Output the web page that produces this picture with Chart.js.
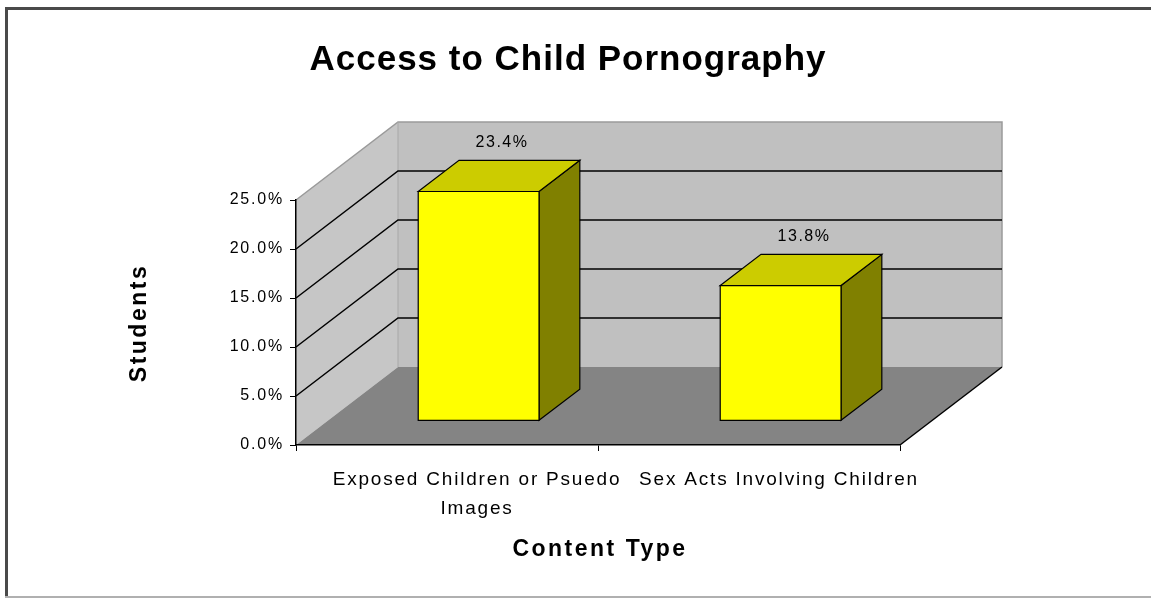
<!DOCTYPE html>
<html>
<head>
<meta charset="utf-8">
<title>Access to Child Pornography</title>
<script src="https://cdn.jsdelivr.net/npm/chart.js@4.4.1/dist/chart.umd.min.js"></script>
<style>
  html, body { margin: 0; padding: 0; background: #fff; }
  #wrap { width: 1151px; height: 599px; }
</style>
</head>
<body>
<div id="wrap"><canvas id="bar3d" width="1151" height="599"></canvas></div>
<script>
"use strict";

// chart data
var categories = [["Exposed Children or Psuedo", "Images"], "Sex Acts Involving Children"];
var studentShare = [23.4, 13.8];
var yTicks = [0, 5, 10, 15, 20, 25];

var FONT = 'Arial, "Liberation Sans", sans-serif';

// depth of the 3d box (walls/floor) and the slice of it a bar occupies
var DX = 102, DY = -78;
var BAR_FRONT = 0.31, BAR_BACK = 0.71;

function poly(ctx, pts, fill, stroke, lw) {
    ctx.beginPath();
    ctx.moveTo(pts[0][0], pts[0][1]);
    for (var i = 1; i < pts.length; i++) ctx.lineTo(pts[i][0], pts[i][1]);
    ctx.closePath();
    if (fill) { ctx.fillStyle = fill; ctx.fill(); }
    if (stroke) { ctx.strokeStyle = stroke; ctx.lineWidth = lw || 1; ctx.stroke(); }
}

function line(ctx, pts, color, lw) {
    ctx.beginPath();
    ctx.moveTo(pts[0][0], pts[0][1]);
    for (var i = 1; i < pts.length; i++) ctx.lineTo(pts[i][0], pts[i][1]);
    ctx.strokeStyle = color;
    ctx.lineWidth = lw || 1;
    ctx.stroke();
}

var box3d = {
    id: 'box3d',
    beforeDraw: function (chart) {
        var ctx = chart.ctx, a = chart.chartArea, y = chart.scales.y;
        var top = y.getPixelForValue(yTicks[yTicks.length - 1]);
        var bot = y.getPixelForValue(0);

        ctx.save();
        ctx.fillStyle = '#fff';
        ctx.fillRect(0, 0, chart.width, chart.height);

        // frame round the picture
        ctx.fillStyle = '#4a4a4a';
        ctx.fillRect(5, 7, chart.width - 5, 3);
        ctx.fillRect(5, 7, 3, 590);
        ctx.fillStyle = '#b0b0b0';
        ctx.fillRect(5, 596, chart.width - 5, 2);

        // back wall, side wall, floor
        poly(ctx, [[a.left + DX, top + DY], [a.right + DX, top + DY], [a.right + DX, bot + DY], [a.left + DX, bot + DY]], '#c0c0c0');
        poly(ctx, [[a.left, top], [a.left + DX, top + DY], [a.left + DX, bot + DY], [a.left, bot]], '#c6c6c6');
        poly(ctx, [[a.left, bot], [a.left + DX, bot + DY], [a.right + DX, bot + DY], [a.right, bot]], '#848484');

        // wall edges
        line(ctx, [[a.left, top], [a.left + DX, top + DY], [a.right + DX, top + DY], [a.right + DX, bot + DY]], '#9a9a9a', 1.5);
        line(ctx, [[a.left + DX, top + DY], [a.left + DX, bot + DY]], '#a8a8a8', 1);

        // gridlines across side and back wall
        yTicks.slice(1, -1).forEach(function (v) {
            var py = y.getPixelForValue(v);
            line(ctx, [[a.left, py], [a.left + DX, py + DY], [a.right + DX, py + DY]], '#000', 1.5);
        });

        // right edge of the floor
        line(ctx, [[a.right, bot], [a.right + DX, bot + DY]], '#000', 1.5);
        ctx.restore();

        ctx.letterSpacing = '1.8px';
    },
    afterDatasetsDraw: function (chart) {
        var ctx = chart.ctx;
        var meta = chart.getDatasetMeta(0);
        var fx = BAR_FRONT * DX, fy = BAR_FRONT * DY;
        var dx = (BAR_BACK - BAR_FRONT) * DX, dy = (BAR_BACK - BAR_FRONT) * DY;

        ctx.save();
        ctx.lineJoin = 'miter';
        meta.data.forEach(function (el, i) {
            var p = el.getProps(['x', 'y', 'base', 'width'], true);
            var l = p.x - p.width / 2 + fx, r = p.x + p.width / 2 + fx;
            var t = p.y + fy, b = p.base + fy;

            poly(ctx, [[r, t], [r + dx, t + dy], [r + dx, b + dy], [r, b]], '#808000', '#000', 1.2);
            poly(ctx, [[l, t], [l + dx, t + dy], [r + dx, t + dy], [r, t]], '#cccc00', '#000', 1.2);
            poly(ctx, [[l, t], [r, t], [r, b], [l, b]], '#ffff00', '#000', 1.2);

            // value label above the bar
            ctx.fillStyle = '#000';
            ctx.font = '16px ' + FONT;
            ctx.letterSpacing = '1.5px';
            ctx.textAlign = 'center';
            ctx.textBaseline = 'middle';
            ctx.fillText(studentShare[i].toFixed(1) + '%', (l + r + dx) / 2 + 3, t + dy - 18);
        });
        ctx.restore();
    },
    afterDraw: function (chart) {
        var ctx = chart.ctx, a = chart.chartArea;
        ctx.save();
        ctx.fillStyle = '#000';
        ctx.textAlign = 'center';
        ctx.textBaseline = 'middle';

        ctx.font = 'bold 35px ' + FONT;
        ctx.letterSpacing = '1px';
        ctx.fillText('Access to Child Pornography', 568, 60);

        ctx.font = 'bold 23px ' + FONT;
        ctx.letterSpacing = '2.5px';
        ctx.fillText('Content Type', (a.left + a.right) / 2 + 2, 550);

        ctx.translate(140, 323);
        ctx.rotate(-Math.PI / 2);
        ctx.fillText('Students', 0, 0);
        ctx.restore();
    }
};

new Chart(document.getElementById('bar3d'), {
    type: 'bar',
    data: {
        labels: categories,
        datasets: [{
            label: 'Students',
            data: studentShare,
            backgroundColor: 'rgba(0,0,0,0)',
            borderWidth: 0,
            categoryPercentage: 1,
            barPercentage: 0.4
        }]
    },
    options: {
        responsive: false,
        animation: false,
        events: [],
        layout: { padding: { top: 200, right: 251, left: 0, bottom: 0 } },
        plugins: {
            legend: { display: false },
            tooltip: { enabled: false },
            title: { display: false }
        },
        scales: {
            x: {
                grid: { drawOnChartArea: false, drawTicks: true, tickLength: 6, color: '#000', offset: true },
                border: { color: '#000', width: 1.5 },
                ticks: {
                    color: '#000',
                    font: { family: FONT, size: 19, lineHeight: 1.5 },
                    padding: 15,
                    labelOffset: 30,
                    maxRotation: 0,
                    autoSkip: false
                },
                afterFit: function (s) { s.height = 154; }
            },
            y: {
                min: 0,
                max: 25,
                ticks: {
                    stepSize: 5,
                    color: '#000',
                    font: { family: FONT, size: 16 },
                    padding: 6,
                    callback: function (v) { return v.toFixed(1) + '%'; }
                },
                grid: { drawOnChartArea: false, drawTicks: true, tickLength: 6, color: '#000' },
                border: { color: '#000', width: 1.5 },
                afterFit: function (s) { s.width = 296; }
            }
        }
    },
    plugins: [box3d]
});
</script>
</body>
</html>
